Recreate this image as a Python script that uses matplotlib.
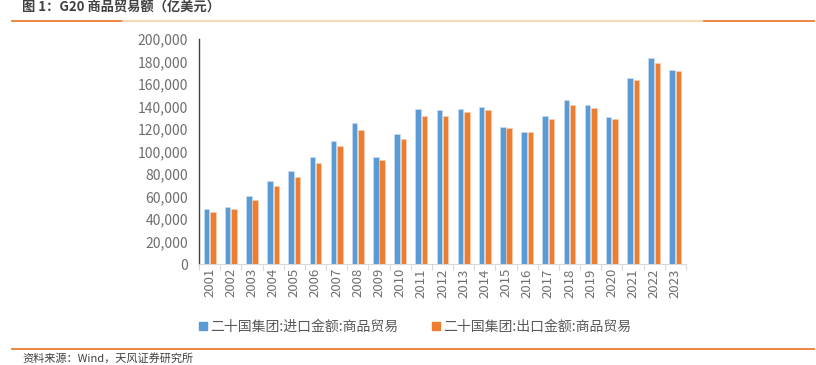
import matplotlib.pyplot as plt
import numpy as np
from matplotlib.lines import Line2D
from matplotlib.ticker import FuncFormatter

plt.rcParams['font.family'] = ['Noto Sans CJK SC', 'DejaVu Sans']

# 数据（亿美元）
years = [str(y) for y in range(2001, 2024)]
imports = [48500, 50900, 60400, 73500, 83000, 94900, 108900, 125000, 94900, 115500,
           138100, 136900, 138100, 139300, 121700, 117600, 131500, 145500, 141400,
           130400, 165200, 183300, 172600]
exports = [46400, 48500, 57100, 69000, 77700, 89600, 104800, 119000, 92000, 111000,
           131500, 131500, 134800, 136900, 120500, 117600, 128600, 141400, 139000,
           128600, 163100, 178300, 171700]
label_imp = '二十国集团:进口金额:商品贸易'
label_exp = '二十国集团:出口金额:商品贸易'
title = '图 1：G20 商品贸易额（亿美元）'
source = '资料来源：Wind，天风证券研究所'

blue = '#5B9BD5'
orange = '#ED7D31'
grey = '#595959'

fig = plt.figure(figsize=(8.16, 3.65), dpi=100)
ax = fig.add_axes([0.2439, 0.2767, 0.5968, 0.6165])

x = np.arange(len(years))
w = 0.26
ax.bar(x - w / 2 - 0.02, imports, w, color=blue, edgecolor='#cfe0f2', linewidth=0.4, label=label_imp)
ax.bar(x + w / 2 + 0.02, exports, w, color=orange, edgecolor='#f8d3bb', linewidth=0.4, label=label_exp)

ax.set_xlim(-0.5, len(years) - 0.5)
ax.set_ylim(0, 200000)
ax.set_yticks(np.arange(0, 200001, 20000))
ax.yaxis.set_major_formatter(FuncFormatter(lambda v, p: f'{int(v):,}'))
ax.tick_params(axis='y', length=0, labelsize=10, labelcolor='#6e6e6e', pad=8)

ax.set_xticks(x)
ax.set_xticklabels(years, rotation=90)
ax.set_xticks(np.arange(-0.5, len(years), 1), minor=True)
ax.tick_params(axis='x', which='major', length=0, labelsize=9.5, labelcolor='#6e6e6e', pad=3)
ax.tick_params(axis='x', which='minor', length=4, color='#d9d9d9', width=0.8)

for s in ['top', 'right']:
    ax.spines[s].set_visible(False)
ax.spines['left'].set_color('#404040')
ax.spines['left'].set_linewidth(1.0)
ax.spines['bottom'].set_color('#d9d9d9')
ax.spines['bottom'].set_linewidth(0.8)

handles = [Line2D([], [], marker='s', linestyle='', color=blue, markersize=6),
           Line2D([], [], marker='s', linestyle='', color=orange, markersize=6)]
fig.legend(handles, [label_imp, label_exp], loc='center', bbox_to_anchor=(0.507, 0.105),
           ncol=2, frameon=False, fontsize=10, labelcolor=grey, handletextpad=0.0,
           columnspacing=2.2, handlelength=1.0)

# 标题和装饰线
fig.text(22 / 816, 1 - 8 / 365, title, fontsize=9.5, fontweight='bold', color='#404040',
         ha='left', va='center')
fig.add_artist(Line2D([12 / 816, 123 / 816], [1 - 20.5 / 365] * 2, color=orange, lw=1.3))
fig.add_artist(Line2D([123 / 816, 704 / 816], [1 - 20.5 / 365] * 2, color='#FAD3B2', lw=1.3))
fig.add_artist(Line2D([704 / 816, 814 / 816], [1 - 20.5 / 365] * 2, color=orange, lw=1.3))
fig.add_artist(Line2D([12 / 816, 814 / 816], [1 - 349 / 365] * 2, color=orange, lw=1.3))
fig.text(22 / 816, 1 - 358 / 365, source, fontsize=8, color='#404040', ha='left', va='center')

fig.savefig('out.png', dpi=100)
